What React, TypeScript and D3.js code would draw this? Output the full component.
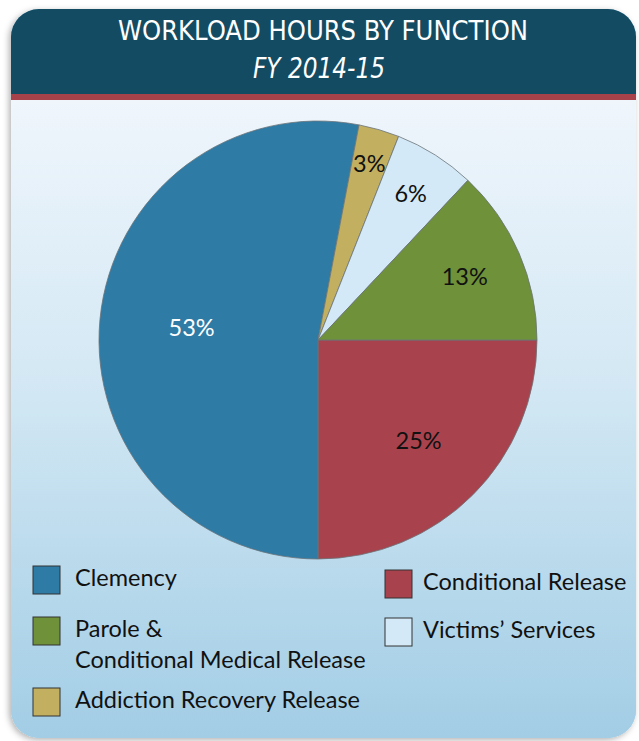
import React, { useEffect, useRef } from "react";
import * as d3 from "d3";

// Chart data
const categories = [
  "Conditional Release",
  "Clemency",
  "Addiction Recovery Release",
  "Victims’ Services",
  "Parole & Conditional Medical Release",
];
const shares = [25, 53, 3, 6, 13];
const sliceColors = ["#a8434e", "#2e7ba6", "#c2b060", "#d3e9f8", "#6e9139"];
const labelColors = ["#111", "#fff", "#111", "#111", "#111"];

const title = "WORKLOAD HOURS BY FUNCTION";
const subtitle = "FY 2014-15";

// legend rows: [category index, lines]
const legendLeft = [
  { idx: 1, lines: ["Clemency"] },
  { idx: 4, lines: ["Parole &", "Conditional Medical Release"] },
  { idx: 2, lines: ["Addiction Recovery Release"] },
];
const legendRight = [
  { idx: 0, lines: ["Conditional Release"] },
  { idx: 3, lines: ["Victims’ Services"] },
];

export default function App() {
  const ref = useRef<SVGSVGElement>(null);

  useEffect(() => {
    const svg = d3.select(ref.current);
    svg.selectAll("*").remove();

    // card geometry
    const card = { x: 11, y: 9, w: 625, h: 729, r: 28 };
    const headerBottom = 94;
    const stripeH = 6;

    const defs = svg.append("defs");
    const grad = defs.append("linearGradient")
      .attr("id", "bodyGrad")
      .attr("x1", "0").attr("x2", "0").attr("y1", "0").attr("y2", "1");
    grad.append("stop").attr("offset", "0%").attr("stop-color", "#f0f6fc");
    grad.append("stop").attr("offset", "45%").attr("stop-color", "#d3e8f4");
    grad.append("stop").attr("offset", "100%").attr("stop-color", "#a2cde5");

    const shadow = defs.append("filter").attr("id", "shadow")
      .attr("x", "-10%").attr("y", "-10%").attr("width", "120%").attr("height", "120%");
    shadow.append("feDropShadow")
      .attr("dx", -2).attr("dy", 2).attr("stdDeviation", 3)
      .attr("flood-color", "#000").attr("flood-opacity", 0.3);

    defs.append("clipPath").attr("id", "cardClip")
      .append("rect")
      .attr("x", card.x).attr("y", card.y)
      .attr("width", card.w).attr("height", card.h)
      .attr("rx", card.r);

    // card background
    svg.append("rect")
      .attr("x", card.x).attr("y", card.y)
      .attr("width", card.w).attr("height", card.h)
      .attr("rx", card.r)
      .attr("fill", "#a2cde5")
      .attr("filter", "url(#shadow)");

    const g = svg.append("g").attr("clip-path", "url(#cardClip)");
    g.append("rect")
      .attr("x", card.x).attr("y", headerBottom)
      .attr("width", card.w).attr("height", card.y + card.h - headerBottom)
      .attr("fill", "url(#bodyGrad)");
    g.append("rect")
      .attr("x", card.x).attr("y", card.y)
      .attr("width", card.w).attr("height", headerBottom - card.y)
      .attr("fill", "#134b63");
    g.append("rect")
      .attr("x", card.x).attr("y", headerBottom)
      .attr("width", card.w).attr("height", stripeH)
      .attr("fill", "#a8424a");

    // header text
    const headFont = "'Liberation Sans Narrow', 'DejaVu Sans Condensed', 'Roboto', sans-serif";
    svg.append("text")
      .attr("x", 323).attr("y", 40)
      .attr("text-anchor", "middle")
      .attr("font-family", headFont)
      .attr("font-size", 27)
      .attr("fill", "#fff")
      .attr("textLength", 410)
      .attr("lengthAdjust", "spacingAndGlyphs")
      .text(title);
    svg.append("text")
      .attr("x", 319).attr("y", 78)
      .attr("text-anchor", "middle")
      .attr("font-family", headFont)
      .attr("font-style", "italic")
      .attr("font-size", 28)
      .attr("fill", "#fff")
      .attr("textLength", 132)
      .attr("lengthAdjust", "spacingAndGlyphs")
      .text(subtitle);

    // pie
    const cx = 318, cy = 340, R = 219;
    const labelRadius = [0.65, 0.58, 0.84, 0.79, 0.73];
    const pie = d3.pie<number>()
      .sort(null)
      .startAngle(Math.PI / 2)
      .endAngle(Math.PI / 2 + 2 * Math.PI);
    const arcs = pie(shares);
    const arc = d3.arc<d3.PieArcDatum<number>>().innerRadius(0).outerRadius(R);

    const pg = svg.append("g").attr("transform", `translate(${cx},${cy})`);
    pg.selectAll("path.slice")
      .data(arcs)
      .enter().append("path")
      .attr("class", "slice")
      .attr("d", arc)
      .attr("fill", (d, i) => sliceColors[i])
      .attr("stroke", "#6b7378")
      .attr("stroke-width", 0.8);

    pg.selectAll("text.pct")
      .data(arcs)
      .enter().append("text")
      .attr("class", "pct")
      .attr("transform", (d, i) => {
        const a = (d.startAngle + d.endAngle) / 2;
        const rr = R * labelRadius[i];
        return `translate(${Math.sin(a) * rr},${-Math.cos(a) * rr})`;
      })
      .attr("text-anchor", "middle")
      .attr("dy", "0.35em")
      .attr("font-family", "Lato, 'Open Sans', sans-serif")
      .attr("font-size", 23.5)
      .attr("fill", (d, i) => labelColors[i])
      .text(d => `${d.data}%`);

    // legend
    const legFont = "Lato, 'Open Sans', sans-serif";
    const drawLegend = (items: { idx: number; lines: string[] }[], x: number, ys: number[], tx: number) => {
      items.forEach((it, k) => {
        const y = ys[k];
        svg.append("rect")
          .attr("x", x).attr("y", y)
          .attr("width", 27).attr("height", 28)
          .attr("fill", sliceColors[it.idx])
          .attr("stroke", "#333")
          .attr("stroke-width", 1);
        it.lines.forEach((line, j) => {
          svg.append("text")
            .attr("x", x + tx).attr("y", y + 20 + j * 31)
            .attr("font-family", legFont)
            .attr("font-size", 23.5)
            .attr("fill", "#111")
            .text(line);
        });
      });
    };
    drawLegend(legendLeft, 33, [566, 617, 688], 42);
    drawLegend(legendRight, 385, [570, 618], 38);
  }, []);

  return (
    <svg ref={ref} width={639} height={741}
      style={{ position: "absolute", left: 0, top: 0, display: "block" }} />
  );
}
